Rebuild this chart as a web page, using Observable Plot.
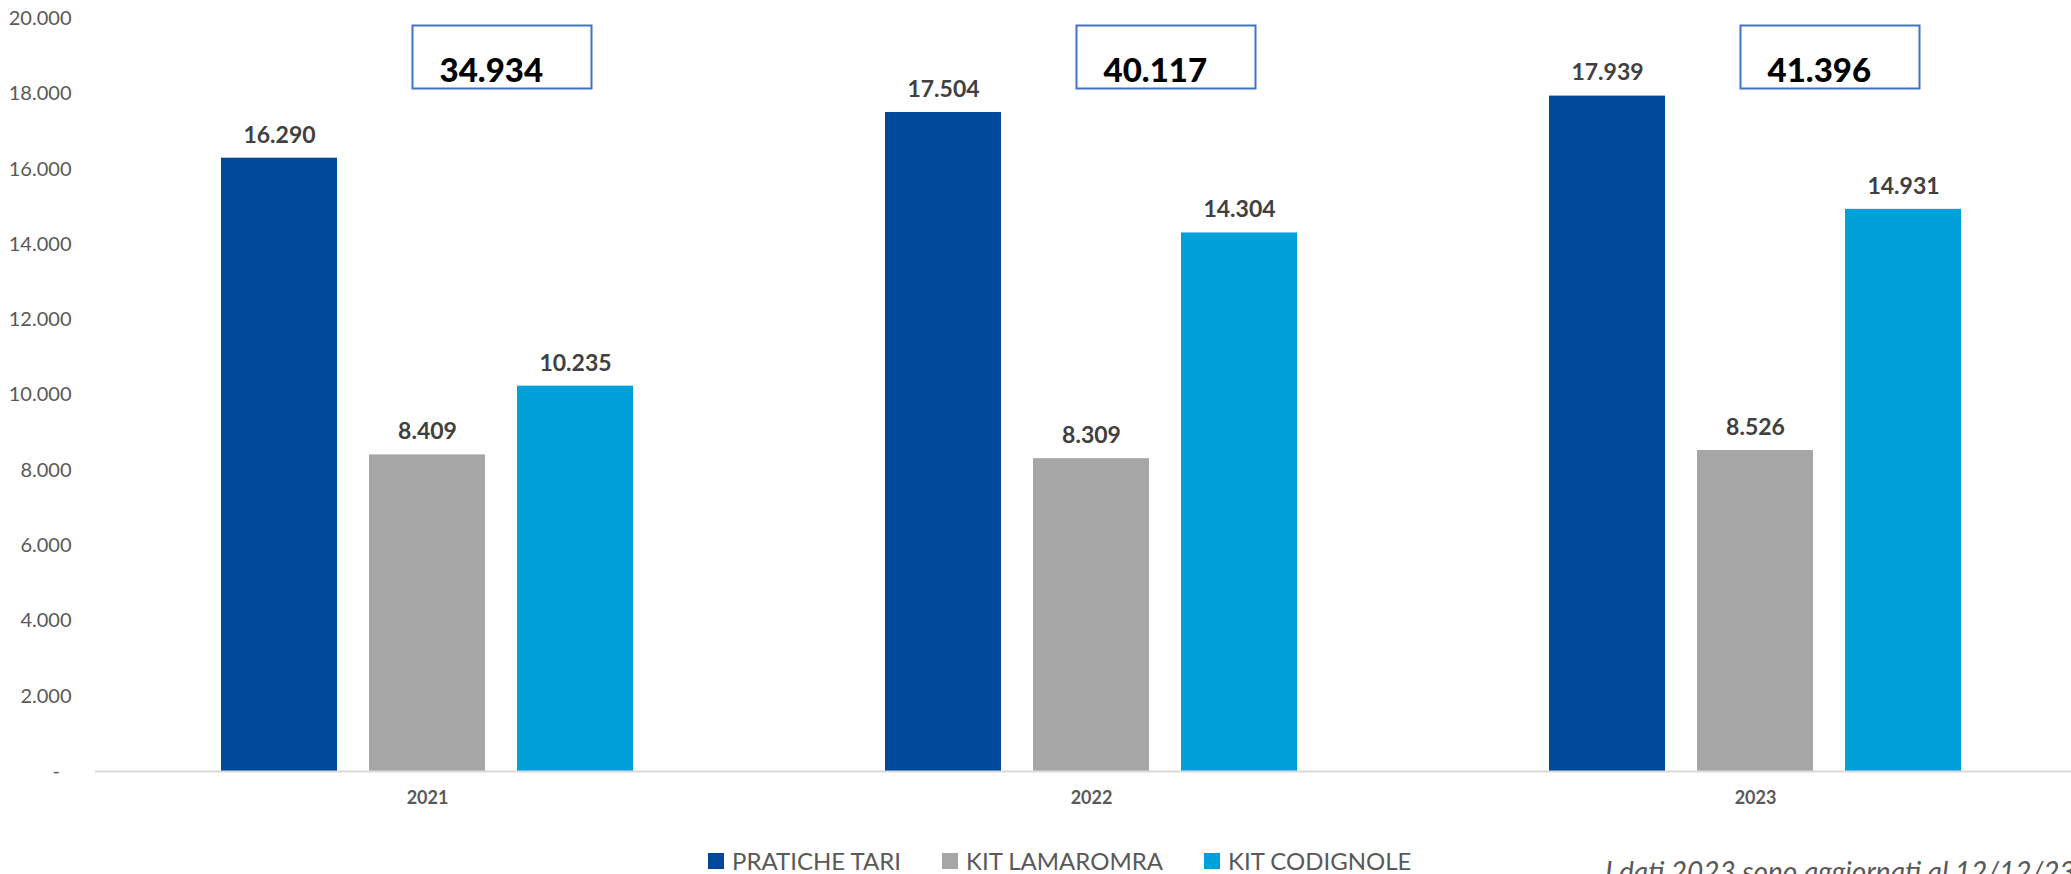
<!DOCTYPE html>
<html>
<head>
<meta charset="utf-8">
<script src="https://cdn.jsdelivr.net/npm/d3@7"></script>
<script src="https://cdn.jsdelivr.net/npm/@observablehq/plot@0.6"></script>
<style>
  html, body { margin: 0; padding: 0; background: #fff; overflow: hidden; width: 2071px; height: 874px; }
  #wrap { position: relative; width: 2071px; height: 874px; overflow: hidden; font-family: Lato, sans-serif; }
  #chart { position: absolute; left: 0; top: 0; width: 2087px; }
  #chart svg { max-width: none !important; }
  #legend { position: absolute; left: 708px; top: 849px; display: flex; align-items: center; font-size: 24px; line-height: 24px; color: #595959; white-space: nowrap; }
  #legend .item { display: flex; align-items: center; margin-right: 41px; }
  #legend .sw { width: 16px; height: 16px; margin-right: 8px; }
  #note { position: absolute; left: 1605px; top: 857px; font-size: 28px; line-height: 28px; font-style: italic; color: #595959; white-space: nowrap; }
</style>
</head>
<body>
<div id="wrap">
  <div id="chart"></div>
  <div id="legend"></div>
  <div id="note">I dati 2023 sono aggiornati al 12/12/23</div>
</div>
<script>
const years = ["2021", "2022", "2023"];
const series = ["PRATICHE TARI", "KIT LAMAROMRA", "KIT CODIGNOLE"];
const praticheTari = [16290, 17504, 17939];
const kitLamaromra = [8409, 8309, 8526];
const kitCodignole = [10235, 14304, 14931];
const totals = [34934, 40117, 41396];
const yTicks = [0, 2000, 4000, 6000, 8000, 10000, 12000, 14000, 16000, 18000, 20000];
const colors = ["#00499A", "#A6A6A6", "#00A0DB"];

const seriesValues = [praticheTari, kitLamaromra, kitCodignole];
const rows = [];
years.forEach((year, i) => {
  series.forEach((s, j) => rows.push({year, series: s, value: seriesValues[j][i]}));
});
const totalRows = years.map((year, i) => ({year, total: totals[i]}));

const fmt = d3.formatLocale({decimal: ",", thousands: ".", grouping: [3], currency: ["", "€"]}).format(",d");

const boxSymbol = {
  draw(context) {
    context.rect(-89.5, -31.5, 179, 63);
  }
};

const chart = Plot.plot({
  width: 2087,
  height: 830,
  marginTop: 18,
  marginBottom: 59,
  marginLeft: 95,
  marginRight: 0,
  style: {fontFamily: "Lato, sans-serif", background: "white", maxWidth: "none"},
  fx: {domain: years, padding: 0, label: null},
  x: {domain: series, paddingInner: 0.216, paddingOuter: 0.85, axis: null},
  y: {domain: [0, 20000], label: null},
  color: {domain: series, range: colors},
  marks: [
    Plot.axisY({ticks: yTicks, tickSize: 0, tickPadding: 24, fontSize: 20, fill: "#595959", label: null,
      tickFormat: d => d === 0 ? "-\u2007" : fmt(d)}),
    Plot.axisFx({anchor: "bottom", tickSize: 0, tickPadding: 20, fontSize: 18, fontWeight: "bold", fill: "#595959", label: null}),
    Plot.barY(rows, {fx: "year", x: "series", y: "value", fill: "series"}),
    Plot.ruleY([0], {stroke: "#D9D9D9", strokeWidth: 2}),
    Plot.text(rows, {fx: "year", x: "series", y: "value", text: d => fmt(d.value), dy: -23, fontSize: 23, fontWeight: "bold", fill: "#404040"}),
    Plot.dot(totalRows, {fx: "year", frameAnchor: "top", dx: 74.5, dy: 38.5, symbol: boxSymbol, stroke: "#4472C4", strokeWidth: 2, fill: "white"}),
    Plot.text(totalRows, {fx: "year", frameAnchor: "top", text: d => fmt(d.total), textAnchor: "start", dx: 12, dy: 40, fontSize: 33, fontWeight: "900", fill: "#000"})
  ]
});
chart.style.maxWidth = "none";
document.getElementById("chart").appendChild(chart);

const legend = document.getElementById("legend");
series.forEach((s, i) => {
  const item = document.createElement("div");
  item.className = "item";
  const sw = document.createElement("span");
  sw.className = "sw";
  sw.style.background = colors[i];
  const label = document.createElement("span");
  label.textContent = s;
  item.appendChild(sw);
  item.appendChild(label);
  legend.appendChild(item);
});
</script>
</body>
</html>
